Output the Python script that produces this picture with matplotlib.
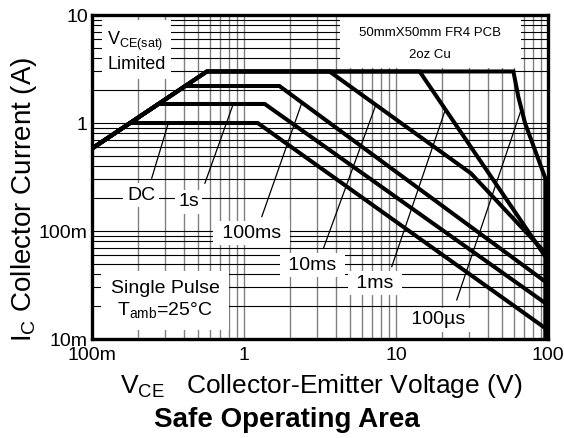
import numpy as np
import matplotlib.pyplot as plt
from matplotlib.patches import Rectangle

plt.rcParams['font.family'] = ['Liberation Sans', 'DejaVu Sans']
plt.rcParams['mathtext.fontset'] = 'custom'
plt.rcParams['mathtext.rm'] = 'Liberation Sans'
plt.rcParams['mathtext.it'] = 'Liberation Sans:italic'
plt.rcParams['mathtext.bf'] = 'Liberation Sans:bold'

# SOA boundaries: VCE (V) vs IC (A)
dc_v = [0.1, 0.178, 1.23, 96]
dc_i = [0.58, 1.0, 1.0, 0.0126]
s1_v = [0.1, 0.274, 1.37, 96]
s1_i = [0.58, 1.5, 1.5, 0.0215]
ms100_v = [0.1, 0.41, 1.71, 96]
ms100_i = [0.58, 2.2, 2.2, 0.034]
ms10_v = [0.1, 0.57, 3.65, 31.1, 96]
ms10_i = [0.58, 3.0, 3.0, 0.342, 0.063]
ms1_v = [0.1, 0.57, 14.3, 96]
ms1_i = [0.58, 3.0, 3.0, 0.058]
us100_v = [0.1, 0.57, 59.2, 63.8, 70.6, 96, 96]
us100_i = [0.58, 3.0, 3.0, 1.75, 1.0, 0.308, 0.01]

curves = [(dc_v, dc_i), (s1_v, s1_i), (ms100_v, ms100_i),
          (ms10_v, ms10_i), (ms1_v, ms1_i), (us100_v, us100_i)]

# curve labels with their leader lines (from label to curve)
label_names = ['DC', '1s', ' 100ms ', ' 10ms ', ' 1ms ', ' 100\u00b5s ']
label_xy = [(0.21, 0.215), (0.431, 0.187), (1.12, 0.0953),
            (2.83, 0.0484), (7.28, 0.0328), (19.0, 0.015)]
leader_from = [(0.247, 0.308), (0.553, 0.277), (1.31, 0.136),
               (3.33, 0.069), (9.38, 0.0468), (25.1, 0.023)]
leader_to = [(0.318, 1.0), (0.85, 1.5), (2.41, 1.56),
             (7.38, 1.48), (21.2, 1.35), (66.4, 1.31)]

xticks = [0.1, 1, 10, 100]
xtick_labels = ['100m', '1', '10', '100']
yticks = [0.01, 0.1, 1, 10]
ytick_labels = ['10m', '100m', '1', '10']

fig = plt.figure(figsize=(5.64, 4.38), dpi=100)
ax = fig.add_axes([92/564, 1-339/438, 456/564, 324/438])

for v, i in curves:
    ax.plot(v, i, color='black', lw=2.9, solid_joinstyle='miter', zorder=4)

for (x0, y0), (x1, y1) in zip(leader_from, leader_to):
    ax.plot([x0, x1], [y0, y1], color='black', lw=0.9, zorder=2)

box = dict(facecolor='white', edgecolor='none', pad=2.5)
for name, (x, y) in zip(label_names, label_xy):
    ax.text(x, y, name, fontsize=14, ha='center', va='center', bbox=box, zorder=3)

ax.text(0.126, 4.6, '$\\mathregular{V_{CE(sat)}}$\nLimited', fontsize=13,
        ha='left', va='center', linespacing=1.3, bbox=dict(facecolor='white', edgecolor='none', pad=4), zorder=3)
ax.text(0.302, 0.023, 'Single Pulse\n$\\mathregular{T_{amb}}$=25\u00b0C', fontsize=14,
        ha='center', va='center', multialignment='center', linespacing=1.25,
        bbox=dict(facecolor='white', edgecolor='none', pad=7), zorder=3)

ax.add_patch(Rectangle((0.544, 0.836), 0.397, 0.164, transform=ax.transAxes,
                       facecolor='white', edgecolor='none', zorder=3))
ax.text(0.741, 0.944, '50mmX50mm FR4 PCB', transform=ax.transAxes, fontsize=9.5,
        ha='center', va='center', zorder=3.5)
ax.text(0.741, 0.877, '2oz Cu', transform=ax.transAxes, fontsize=9.5,
        ha='center', va='center', zorder=3.5)

ax.set_xscale('log')
ax.set_yscale('log')
ax.set_xlim(0.1, 100)
ax.set_ylim(0.01, 10)
ax.set_xticks(xticks, xtick_labels)
ax.set_yticks(yticks, ytick_labels)
ax.xaxis.set_minor_formatter(plt.NullFormatter())
ax.yaxis.set_minor_formatter(plt.NullFormatter())
ax.tick_params(which='both', length=0, labelsize=14)
ax.tick_params(axis='x', pad=6)
ax.tick_params(axis='y', pad=3)
ax.set_axisbelow(True)
ax.grid(which='both', axis='y', color='black', lw=0.8)
ax.grid(which='both', axis='x', color='#808080', lw=1.0)
for s in ax.spines.values():
    s.set_linewidth(2.4)
    s.set_zorder(6)

fig.text(31/564, 1-199/438, '$\\mathregular{I_C}$ Collector Current (A)', fontsize=20,
         rotation=90, rotation_mode='anchor', ha='center', va='baseline')
fig.text(321/564, 1-393/438, '$\\mathregular{V_{CE}}$   Collector-Emitter Voltage (V)', fontsize=19,
         ha='center', va='baseline')
fig.text(287/564, 1-427/438, 'Safe Operating Area', fontsize=20, fontweight='bold',
         ha='center', va='baseline')

fig.savefig('out.png', dpi=100)
